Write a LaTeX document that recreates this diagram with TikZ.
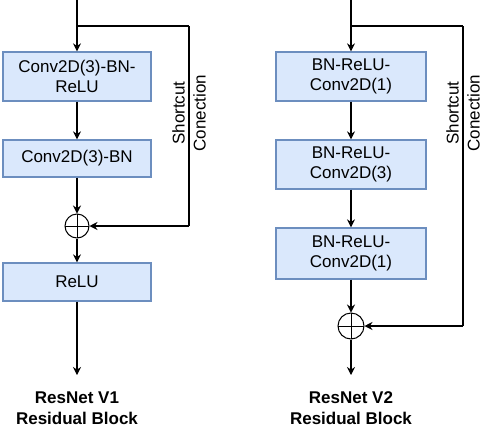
\documentclass[tikz,border=0pt]{standalone}
\usepackage{fontspec}
\setmainfont{Liberation Sans}
\usetikzlibrary{arrows.meta}
\begin{document}
\begin{tikzpicture}[x=1pt,y=-1pt,
  blk/.style={draw=blue!45!gray, line width=1.3pt, fill={rgb,255:red,218;green,232;blue,252}, minimum width=148pt, inner sep=0pt, align=center, font=\fontsize{17}{20}\selectfont},
  sumnode/.style={draw, circle, line width=1pt, minimum size=24pt, inner sep=0pt,
    path picture={\draw[line width=1pt] (path picture bounding box.north) -- (path picture bounding box.south) (path picture bounding box.west) -- (path picture bounding box.east);}},
  conn/.style={line width=1.1pt, -{Stealth[length=8pt,width=8pt]}},
  lab/.style={align=center, font=\fontsize{17}{21}\selectfont\bfseries},
  sclab/.style={align=center, rotate=90, font=\fontsize{17}{21}\selectfont}]
\useasboundingbox (0,0) rectangle (480,424);
\definecolor{bordc}{RGB}{108,142,191}
% left column
\coordinate (ltop) at (77,0);
\coordinate (lsplit) at (77,26);
\coordinate (lcorner1) at (189,26);
\coordinate (lcorner2) at (189,226);
\node[blk, draw=bordc, minimum height=49pt] (l1) at (77,76.5) {Conv2D(3)-BN-\\ReLU};
\node[blk, draw=bordc, minimum height=37pt] (l2) at (77,158.5) {Conv2D(3)-BN};
\node[sumnode] (lsum) at (77,226) {};
\node[blk, draw=bordc, minimum height=38pt] (l3) at (77,282) {ReLU};
\coordinate (lend) at (77,375);
\node[lab] (llab) at (77,408) {ResNet V1\\Residual Block};
\node[sclab] (lsc) at (189,113) {Shortcut\\Conection};
\draw[line width=1.1pt] (ltop) -- (lsplit);
\draw[conn] (lsplit) -- (l1.north);
\draw[conn] (l1.south) -- (l2.north);
\draw[conn] (l2.south) -- (lsum.north);
\draw[conn] (lsum.south) -- (l3.north);
\draw[conn] (l3.south) -- (lend);
\draw[line width=1.1pt] (lsplit) -- (lcorner1);
\draw[line width=2pt] (lcorner1) -- (lcorner2);
\draw[conn] (lcorner2) -- (lsum.east);
% right column
\coordinate (rtop) at (351,0);
\coordinate (rsplit) at (351,26);
\coordinate (rcorner1) at (463,26);
\coordinate (rcorner2) at (463,326);
\node[blk, draw=bordc, minimum width=150pt, minimum height=49pt] (r1) at (351,76.5) {BN-ReLU-\\Conv2D(1)};
\node[blk, draw=bordc, minimum width=150pt, minimum height=49pt] (r2) at (351,164.5) {BN-ReLU-\\Conv2D(3)};
\node[blk, draw=bordc, minimum width=150pt, minimum height=51pt] (r3) at (351,253.5) {BN-ReLU-\\Conv2D(1)};
\node[sumnode, minimum size=26pt] (rsum) at (351,326) {};
\coordinate (rend) at (351,375);
\node[lab] (rlab) at (351,408) {ResNet V2\\Residual Block};
\node[sclab] (rsc) at (463,113) {Shortcut\\Conection};
\draw[line width=1.1pt] (rtop) -- (rsplit);
\draw[conn] (rsplit) -- (r1.north);
\draw[conn] (r1.south) -- (r2.north);
\draw[conn] (r2.south) -- (r3.north);
\draw[conn] (r3.south) -- (rsum.north);
\draw[conn] (rsum.south) -- (rend);
\draw[line width=1.1pt] (rsplit) -- (rcorner1);
\draw[line width=2pt] (rcorner1) -- (rcorner2);
\draw[conn] (rcorner2) -- (rsum.east);
\end{tikzpicture}
\end{document}
